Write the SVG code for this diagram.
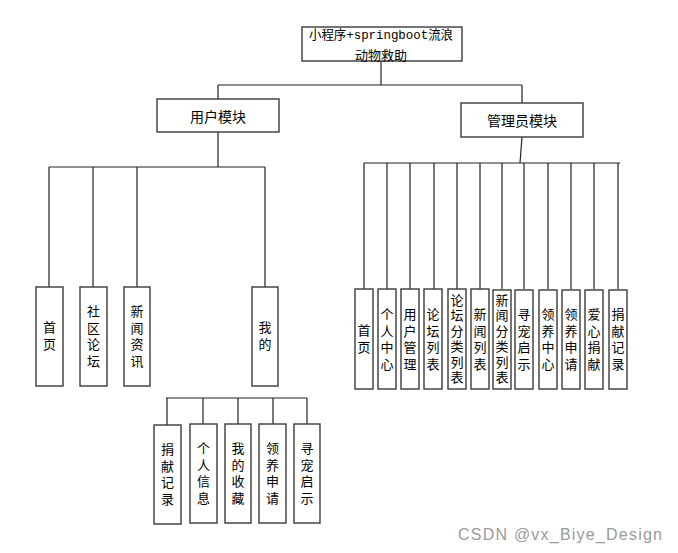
<svg xmlns="http://www.w3.org/2000/svg" width="678" height="553" viewBox="0 0 678 553">
<style>
.box{fill:#fff;stroke:#3a3a3a;stroke-width:1.4}
.ln{fill:none;stroke:#222;stroke-width:1.2}
.t{font-family:"Noto Sans CJK SC","Noto Sans",sans-serif;font-size:14px;fill:#000;text-anchor:middle;dominant-baseline:central}
.t13{font-size:13px}
.mono{font-family:"Liberation Mono","Noto Sans CJK SC",monospace}
.v{font-family:"Noto Sans CJK SC","Noto Sans",sans-serif;font-size:13px;fill:#000;text-anchor:middle;writing-mode:vertical-rl;letter-spacing:3.5px}
.v2{letter-spacing:4.5px}
.v6{letter-spacing:2.5px}
.wm{font-family:"Liberation Sans",Arial,sans-serif;font-size:16px;fill:#9a9a9a}
</style>
<rect width="678" height="553" fill="#fff"/>
<g id="connectors">
<path class="ln" d="M381 61V85M218 85H522M218 85V99M522 85V103"/>
<path class="ln" d="M218 132V167M49 167H265M49 167V287M93 167V287M137 167V287M265 167V287"/>
<path class="ln" d="M522 137L520 163M364 163H620M364 163V289M387 163V289M410 163V289M434 163V289M457 163V289M480 163V289M502 163V289M524 163V289M548 163V289M571 163V289M594 163V289M618 163V289"/>
<path class="ln" d="M166 398H307M167 398V425M203 398V424M238 398V424M273 398V424M307 398V424"/>
</g>
<g id="root"><rect class="box" x="302" y="27" width="160" height="34"/>
<text class="t t13 mono" x="381" y="35.5" textLength="144" lengthAdjust="spacingAndGlyphs">小程序+springboot流浪</text>
<text class="t t13" x="381" y="54.5">动物救助</text></g>
<g id="user"><rect class="box" x="157" y="99" width="122" height="33"/><text class="t" x="218" y="116">用户模块</text></g>
<g id="admin"><rect class="box" x="461" y="103" width="122" height="34"/><text class="t" x="522" y="120">管理员模块</text></g>

<g id="u1"><rect class="box" x="36" y="287" width="27" height="99"/><text class="v v2" x="49.5" y="338">首页</text></g>
<g id="u2"><rect class="box" x="80" y="287" width="27" height="99"/><text class="v" x="93.5" y="338">社区论坛</text></g>
<g id="u3"><rect class="box" x="124" y="287" width="26" height="99"/><text class="v" x="137" y="338">新闻资讯</text></g>
<g id="u4"><rect class="box" x="252" y="287" width="26" height="99"/><text class="v v2" x="265" y="338">我的</text></g>

<g id="m1"><rect class="box" x="154" y="425" width="27" height="99"/><text class="v" x="167.5" y="476">捐献记录</text></g>
<g id="m2"><rect class="box" x="190" y="424" width="27" height="99"/><text class="v" x="203.5" y="475">个人信息</text></g>
<g id="m3"><rect class="box" x="225" y="424" width="26" height="99"/><text class="v" x="238" y="475">我的收藏</text></g>
<g id="m4"><rect class="box" x="259" y="424" width="27" height="99"/><text class="v" x="272.5" y="475">领养申请</text></g>
<g id="m5"><rect class="box" x="294" y="424" width="26" height="99"/><text class="v" x="307" y="475">寻宠启示</text></g>

<g id="a1"><rect class="box" x="355" y="289" width="18" height="100"/><text class="v v2" x="364" y="341">首页</text></g>
<g id="a2"><rect class="box" x="378" y="289" width="18" height="100"/><text class="v" x="387" y="341">个人中心</text></g>
<g id="a3"><rect class="box" x="401" y="289" width="18" height="100"/><text class="v" x="410" y="341">用户管理</text></g>
<g id="a4"><rect class="box" x="424" y="289" width="18" height="100"/><text class="v" x="433" y="341">论坛列表</text></g>
<g id="a5"><rect class="box" x="448" y="289" width="18" height="100"/><text class="v v6" x="457" y="340">论坛分类列表</text></g>
<g id="a6"><rect class="box" x="471" y="289" width="18" height="100"/><text class="v" x="480" y="341">新闻列表</text></g>
<g id="a7"><rect class="box" x="493" y="290" width="18" height="99"/><text class="v v6" x="502" y="340">新闻分类列表</text></g>
<g id="a8"><rect class="box" x="515" y="290" width="18" height="99"/><text class="v" x="524" y="341">寻宠启示</text></g>
<g id="a9"><rect class="box" x="539" y="290" width="18" height="99"/><text class="v" x="548" y="341">领养中心</text></g>
<g id="a10"><rect class="box" x="562" y="290" width="18" height="99"/><text class="v" x="571" y="341">领养申请</text></g>
<g id="a11"><rect class="box" x="585" y="290" width="18" height="99"/><text class="v" x="594" y="341">爱心捐献</text></g>
<g id="a12"><rect class="box" x="609" y="290" width="18" height="99"/><text class="v" x="618" y="341">捐献记录</text></g>

<text class="wm" x="458" y="540" textLength="204" lengthAdjust="spacing">CSDN @vx_Biye_Design</text>
</svg>
